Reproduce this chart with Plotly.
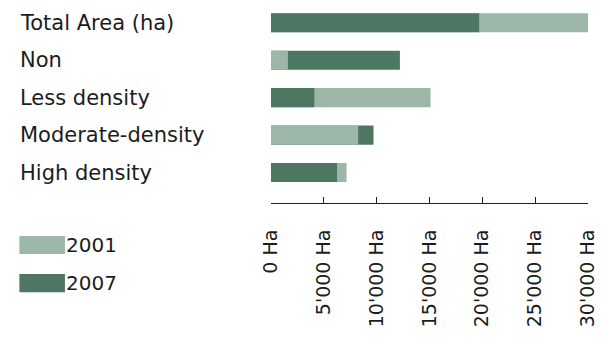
import plotly.graph_objects as go

categories = ["Total Area (ha)", "Non", "Less density", "Moderate-density", "High density"]
area_2001 = [30000, 1600, 15100, 8250, 7150]
area_2007 = [19700, 12200, 4100, 9700, 6250]
tick_values = [0, 5000, 10000, 15000, 20000, 25000, 30000]
tick_labels = ["0 Ha", "5'000 Ha", "10'000 Ha", "15'000 Ha", "20'000 Ha", "25'000 Ha", "30'000 Ha"]

LIGHT = "#9cb7a7"
DARK = "#4e7763"
TEXT = "#1c1c1c"
FONT = "DejaVu Sans"

fig = go.Figure()

# Overlapping bars: in each row the longer bar sits behind the shorter one.
def pick(vals, other, longer):
    return [v if ((v >= o) if longer else (v < o)) else None for v, o in zip(vals, other)]

layers = [
    ("2001", area_2001, area_2007, True, LIGHT),
    ("2007", area_2007, area_2001, True, DARK),
    ("2001", area_2001, area_2007, False, LIGHT),
    ("2007", area_2007, area_2001, False, DARK),
]
for name, vals, other, longer, color in layers:
    fig.add_trace(go.Bar(
        y=categories, x=pick(vals, other, longer), orientation="h",
        name=name, marker=dict(color=color, line=dict(width=0)),
        showlegend=False, hoverinfo="x+name",
    ))

W, H = 602, 343
L, R, T, B = 271, 11, 4.3, 140
pw, ph = W - L - R, H - T - B
def px_x(p):
    return (p - L) / pw
def px_y(p):
    return 1 - (p - T) / ph

# Category labels, left-aligned at the figure edge
for c in categories:
    fig.add_annotation(text=c, x=px_x(16), xref="paper", y=c, yref="y",
                       xanchor="left", yanchor="middle", showarrow=False,
                       font=dict(family=FONT, size=21, color=TEXT))

# Legend drawn as wide swatches with labels
legend_items = [("2001", LIGHT, 245), ("2007", DARK, 283)]
for label, color, yc in legend_items:
    fig.add_shape(type="rect", xref="paper", yref="paper",
                  x0=px_x(17), x1=px_x(63), y0=px_y(yc - 9), y1=px_y(yc + 9),
                  fillcolor=color, line=dict(width=0))
    fig.add_annotation(text=label, xref="paper", yref="paper",
                       x=px_x(62), y=px_y(yc), xanchor="left", yanchor="middle",
                       showarrow=False, font=dict(family=FONT, size=20, color=TEXT))

fig.update_layout(
    width=W, height=H,
    margin=dict(l=L, r=R, t=T, b=B),
    paper_bgcolor="white", plot_bgcolor="white",
    barmode="overlay", bargap=0.49,
    showlegend=False,
    font=dict(family=FONT, color=TEXT),
)
fig.update_xaxes(
    range=[0, 30000], tickvals=tick_values, ticktext=tick_labels,
    tickangle=-90, tickfont=dict(family=FONT, size=19, color=TEXT),
    showgrid=False, zeroline=False,
    showline=True, linecolor="#222", linewidth=1,
    ticks="inside", ticklen=6, tickcolor="#222", ticklabelstandoff=18,
)
fig.update_yaxes(
    categoryorder="array", categoryarray=categories,
    range=[4.813, -0.5], showticklabels=False, showgrid=False,
    zeroline=False, showline=False, ticks="",
)

fig.write_html("out.html")
